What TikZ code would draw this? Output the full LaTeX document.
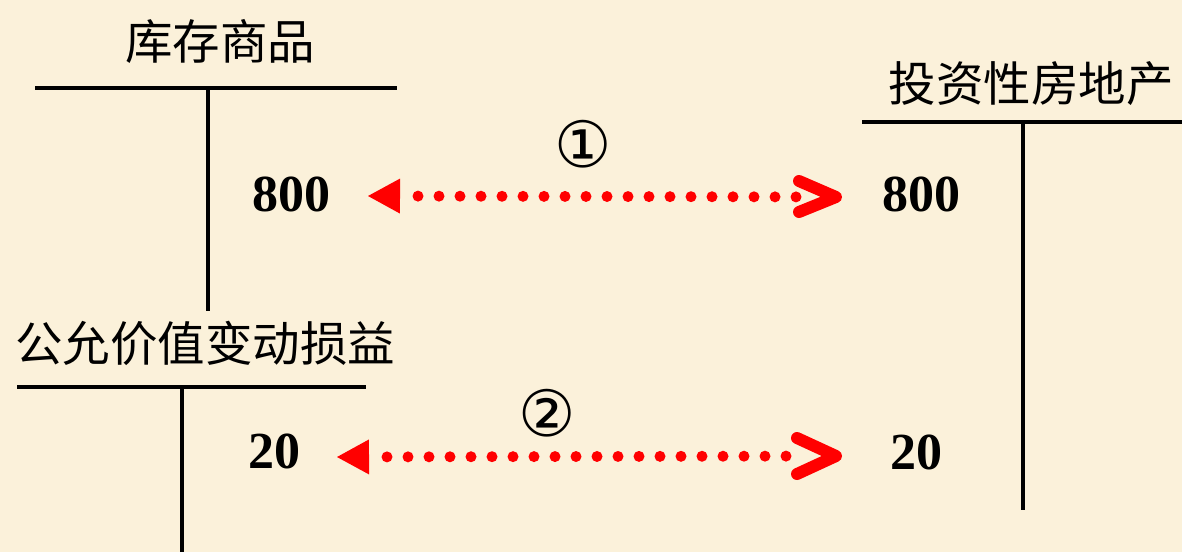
\documentclass[tikz,border=0pt]{standalone}
\usepackage{fontspec}
\setmainfont{Liberation Serif}
\newfontfamily\cjk{Noto Sans CJK SC}
\newfontfamily\symfont{DejaVu Sans}
\usetikzlibrary{arrows.meta}
\definecolor{bg}{HTML}{FBF1DA}
\definecolor{arrred}{HTML}{FF0000}
\begin{document}
\begin{tikzpicture}[x=1pt,y=-1pt,
  title/.style={font=\cjk\fontsize{47.5}{50}\selectfont, inner sep=0pt},
  amount/.style={font=\bfseries\fontsize{52}{56}\selectfont, inner sep=0pt, anchor=base},
  circnum/.style={font=\symfont\fontsize{64}{68}\selectfont, inner sep=0pt},
  tline/.style={line width=4.5pt},
  conn/.style={draw=arrred, line width=11pt, line cap=round,
    dash pattern=on 0pt off 21pt, dash phase=3pt, shorten >=38pt,
    arrows={Triangle[length=32pt,width=35pt,line width=0pt,fill=arrred]-}},
  chev/.style={draw=arrred, line width=12pt, line cap=round, line join=round}
]
\fill[bg] (0,0) rectangle (1182,552);
\useasboundingbox (0,0) rectangle (1182,552);

% T accounts
\node[title] (kc) at (220,41) {库存商品};
\draw[tline] (35,88) -- (397,88);
\draw[tline] (208,88) -- (208,311);

\node[title] (tz) at (1031,84) {投资性房地产};
\draw[tline] (862,122) -- (1182,122);
\draw[tline] (1023,122) -- (1023,510);

\node[title] (gy) at (205,343) {公允价值变动损益};
\draw[tline] (17,387) -- (366,387);
\draw[tline] (182,387) -- (182,552);

% amounts
\node[amount] (l800) at (291,211) {800};
\node[amount] (r800) at (921,211) {800};
\node[amount] (l20) at (274,468) {20};
\node[amount] (r20) at (916,469) {20};

% step numbers
\node[circnum] (c1) at (583,144) {①};
\node[circnum] (c2) at (547,413) {②};

% connectors
\coordinate (a1s) at (368,196);
\coordinate (a1e) at (836,197);
\coordinate (a2s) at (337,457);
\coordinate (a2e) at (836,456);
\draw[conn] (a1s) -- (a1e);
\draw[chev] ([shift={(-37,-16)}]a1e) -- (a1e) -- ([shift={(-37,15)}]a1e);
\draw[conn] (a2s) -- (a2e);
\draw[chev] ([shift={(-39,-18)}]a2e) -- (a2e) -- ([shift={(-39,18)}]a2e);
\end{tikzpicture}
\end{document}
